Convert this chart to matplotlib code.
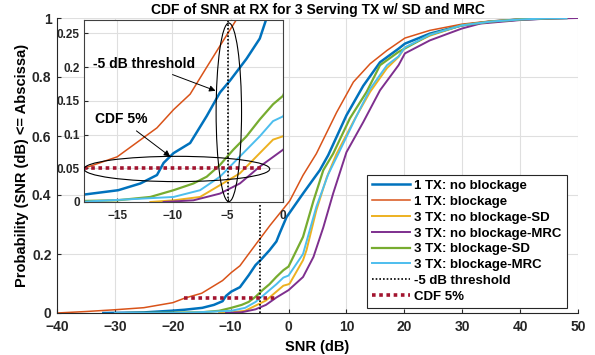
import matplotlib
matplotlib.use("Agg")
import matplotlib.pyplot as plt
from matplotlib.patches import Ellipse

plt.rcParams['font.family'] = ['Liberation Sans', 'DejaVu Sans']
plt.rcParams['font.weight'] = 'bold'

# ---- data (SNR dB, CDF) ----
snr_1tx_nb = [-32, -25, -20, -18, -14.9, -12.9, -11.4, -10.8, -9.9, -8.4, -6.9, -5.7, -4.8, -3.3, -2.1, -1.5,
              -0.35, 2.5, 5.4, 6.85, 10, 12.9, 15.8, 19, 20.1, 24.4, 29.9, 35, 40, 45, 48]
cdf_1tx_nb = [0, 0.002, 0.008, 0.011, 0.0175, 0.0275, 0.04, 0.058, 0.0725, 0.0875, 0.1275, 0.1625, 0.18, 0.2125,
              0.2425, 0.272, 0.325, 0.405, 0.484, 0.535, 0.67, 0.77, 0.85, 0.896, 0.913, 0.947, 0.975, 0.988,
              0.995, 0.999, 1.0]

snr_1tx_b = [-40, -35, -30, -25, -20, -18, -15, -11.4, -9.9, -8.4, -6.9, -5, -3.2, 0.2, 2.5, 4.8, 8.3, 11.2,
             14.1, 17, 20.1, 24.4, 29.9, 35, 40, 45, 50]
cdf_1tx_b = [0, 0.005, 0.011, 0.018, 0.035, 0.05, 0.067, 0.11, 0.137, 0.16, 0.2, 0.25, 0.297, 0.38, 0.467,
             0.54, 0.68, 0.783, 0.845, 0.89, 0.932, 0.958, 0.979, 0.99, 0.996, 0.999, 1.0]

snr_3tx_nb_sd = [-12, -9.9, -7.5, -5.7, -3.9, -2.1, -0.9, 0, 0.2, 2.5, 3.1, 4.8, 6.6, 8.3, 11.5, 14.1, 17, 19,
                 20.1, 24.4, 29.9, 35, 40, 45, 48]
cdf_3tx_nb_sd = [0, 0.0025, 0.0075, 0.025, 0.0425, 0.0725, 0.0925, 0.0975, 0.1, 0.179, 0.213, 0.348, 0.46,
                 0.54, 0.66, 0.75, 0.83, 0.868, 0.9, 0.94, 0.975, 0.988, 0.995, 0.999, 1.0]

snr_3tx_nb_mrc = [-10.8, -8.1, -5.7, -3.9, -2.1, 0, 2.5, 4.3, 6, 7.7, 10, 12.9, 15.8, 19, 20.1, 24.4, 29.9,
                  33.1, 40, 45, 50]
cdf_3tx_nb_mrc = [0, 0.0025, 0.0125, 0.0275, 0.0525, 0.0775, 0.122, 0.19, 0.29, 0.405, 0.545, 0.647, 0.755,
                  0.84, 0.88, 0.924, 0.964, 0.981, 0.993, 0.998, 1.0]

snr_3tx_b_sd = [-28, -20, -15, -12, -9.9, -8.1, -6.9, -5.7, -4.5, -3.3, -2.1, -0.9, 0, 2.5, 4.3, 6, 7.7, 10.6,
                13.5, 15.8, 19, 24.4, 29.9, 35, 40, 45, 48]
cdf_3tx_b_sd = [0, 0.001, 0.0025, 0.0075, 0.0175, 0.0275, 0.0375, 0.055, 0.0775, 0.0975, 0.1225, 0.145, 0.1575,
                0.258, 0.38, 0.484, 0.54, 0.66, 0.75, 0.84, 0.885, 0.943, 0.975, 0.988, 0.995, 0.999, 1.0]

snr_3tx_b_mrc = [-30, -18, -9.9, -7.5, -5.7, -4.5, -3.3, -2.1, -0.9, 0, 2.5, 4.8, 6.85, 8.6, 11.8, 14.1, 17,
                 19, 20.1, 24.4, 29.9, 35, 40, 45, 48]
cdf_3tx_b_mrc = [0, 0.0005, 0.0075, 0.0175, 0.0375, 0.0575, 0.0775, 0.0975, 0.12, 0.127, 0.2, 0.36, 0.47,
                 0.54, 0.67, 0.76, 0.84, 0.87, 0.9, 0.943, 0.975, 0.988, 0.995, 0.999, 1.0]

threshold_x = [-5, -5]
threshold_y = [0, 0.5]
cdf5_x = [-18, -2]
cdf5_y = [0.05, 0.05]

labels = ['1 TX: no blockage', '1 TX: blockage', '3 TX: no blockage-SD', '3 TX: no blockage-MRC',
          '3 TX: blockage-SD', '3 TX: blockage-MRC', '-5 dB threshold', 'CDF 5%']

series = [(snr_1tx_nb, cdf_1tx_nb, '#0072BD', 1.8),
          (snr_1tx_b, cdf_1tx_b, '#D95319', 1.1),
          (snr_3tx_nb_sd, cdf_3tx_nb_sd, '#EDB120', 1.4),
          (snr_3tx_nb_mrc, cdf_3tx_nb_mrc, '#7E2F8E', 1.4),
          (snr_3tx_b_sd, cdf_3tx_b_sd, '#77AC30', 1.6),
          (snr_3tx_b_mrc, cdf_3tx_b_mrc, '#4DBEEE', 1.4)]

W, H = 595, 355
fig = plt.figure(figsize=(W / 100, H / 100), dpi=100)
ax = fig.add_axes([57 / W, (H - 313) / H, (578 - 57) / W, (313 - 18) / H])

for (x, y, c, lw), lab in zip(series, labels[:6]):
    ax.plot(x, y, color=c, lw=lw, label=lab)
ax.plot(threshold_x, threshold_y, color='k', lw=1.2, linestyle=(0, (1, 1.2)), label=labels[6])
ax.plot(cdf5_x, cdf5_y, color='#A2142F', lw=2.6, linestyle=(0, (1, 1)), dash_capstyle='butt', label=labels[7])

ax.set_xlim(-40, 50)
ax.set_ylim(0, 1)
ax.set_xticks(range(-40, 51, 10))
ax.set_yticks([0, 0.2, 0.4, 0.6, 0.8, 1])
ax.set_yticklabels(['0', '0.2', '0.4', '0.6', '0.8', '1'])
ax.grid(True, color='#dfdfdf', lw=0.8)
ax.set_axisbelow(True)
for s in ['top', 'right']:
    ax.spines[s].set_visible(False)
for s in ['left', 'bottom']:
    ax.spines[s].set_color('#262626')
    ax.spines[s].set_linewidth(0.8)
ax.tick_params(direction='in', length=3, width=0.8, colors='#262626', labelsize=10, pad=4)
ax.tick_params(axis='x', pad=5)
ax.set_title('CDF of SNR at RX for 3 Serving TX w/ SD and MRC', fontsize=10, fontweight='bold', pad=3)
ax.set_xlabel('SNR (dB)', fontsize=10.5, fontweight='bold', labelpad=4)
ax.set_ylabel('Probability (SNR (dB) <= Abscissa)', fontsize=10.5, fontweight='bold', labelpad=2)

leg = ax.legend(loc='lower right', bbox_to_anchor=(0.979, 0.017), borderaxespad=0, fontsize=9.5, frameon=True,
                fancybox=False, framealpha=1, edgecolor='#262626', handlelength=2.9, labelspacing=0.27,
                borderpad=0.4, handletextpad=0.3)
leg.get_frame().set_linewidth(0.8)

# ---- inset ----
ax2 = fig.add_axes([84 / W, (H - 202) / H, (283 - 84) / W, (202 - 20) / H])
ax2.set_facecolor('white')
for (x, y, c, lw), lab in zip(series, labels[:6]):
    ax2.plot(x, y, color=c, lw=lw)
ax2.plot(threshold_x, threshold_y, color='k', lw=1.2, linestyle=(0, (1, 1.2)))
ax2.plot(cdf5_x, cdf5_y, color='#A2142F', lw=2.6, linestyle=(0, (1, 1)), dash_capstyle='butt')
ax2.set_xlim(-18, 0)
ax2.set_ylim(0, 0.27)
ax2.set_xticks([-15, -10, -5, 0])
ax2.set_yticks([0, 0.05, 0.1, 0.15, 0.2, 0.25])
ax2.set_yticklabels(['0', '0.05', '0.1', '0.15', '0.2', '0.25'])
ax2.grid(True, color='#dfdfdf', lw=0.8)
ax2.set_axisbelow(True)
for s in ax2.spines.values():
    s.set_color('#404040')
    s.set_linewidth(0.8)
ax2.tick_params(direction='in', length=3, width=0.8, colors='#262626', labelsize=8.5, pad=3)
ax2.tick_params(axis='x', pad=6)

ax2.add_patch(Ellipse((-9.6, 0.049), 16.8, 0.0375, fill=False, ec='k', lw=0.8, zorder=5))
ax2.add_patch(Ellipse((-4.9, 0.133), 2.3, 0.265, fill=False, ec='k', lw=0.8, zorder=5))
ax2.annotate('-5 dB threshold', xy=(-6.1, 0.165), xytext=(-17.2, 0.205), fontsize=10, fontweight='bold',
             va='center', ha='left',
             arrowprops=dict(arrowstyle='-|>', color='k', lw=0.7, mutation_scale=9, shrinkA=2, shrinkB=0))
ax2.annotate('CDF 5%', xy=(-10.2, 0.0675), xytext=(-17.0, 0.1225), fontsize=10, fontweight='bold',
             va='center', ha='left',
             arrowprops=dict(arrowstyle='-|>', color='k', lw=0.7, mutation_scale=9, shrinkA=2, shrinkB=0))

fig.savefig('out.png', dpi=100)
